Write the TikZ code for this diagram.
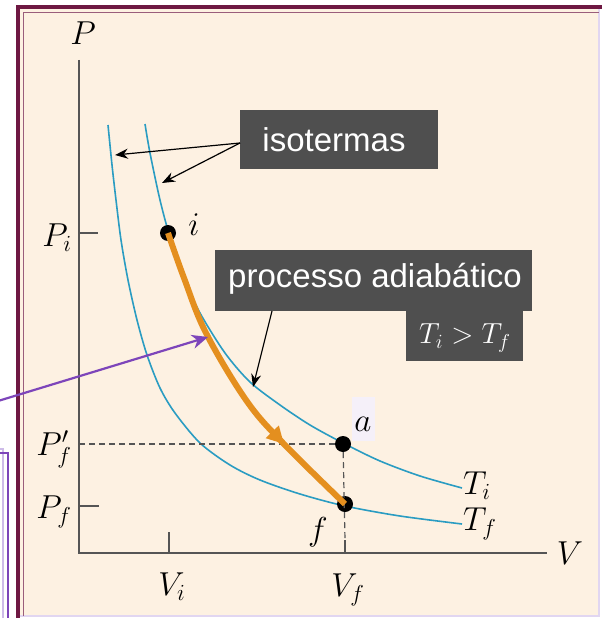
\documentclass[tikz,border=0pt]{standalone}
\usepackage{graphicx}
\usepackage{fontspec}
\newfontfamily\arialf{Liberation Sans}
\usetikzlibrary{arrows.meta,decorations.markings}
\definecolor{cream}{HTML}{FDF1E2}
\definecolor{maroon}{HTML}{6E1842}
\definecolor{boxgrey}{HTML}{4F4F4F}
\definecolor{isoblue}{HTML}{2A9CC2}
\definecolor{adiab}{HTML}{E48F1F}
\definecolor{purp}{HTML}{7D45BA}
\definecolor{lav}{HTML}{CDBBE8}
\definecolor{axgrey}{HTML}{555555}
\newcommand{\mylbl}[1]{\scalebox{1.6}{\huge #1}}
\begin{document}
\begin{tikzpicture}[x=1pt,y=-1pt,
  lbl/.style={inner sep=0pt},
  sans/.style={font=\arialf\fontsize{33}{38}\selectfont, text=white, inner sep=0pt},
  darkbox/.style={fill=boxgrey, draw=none},
  axis/.style={draw=axgrey, line width=2pt},
  guide/.style={draw=axgrey, line width=1.2pt, dash pattern=on 6pt off 4pt},
  iso/.style={draw=isoblue, line width=1.6pt},
  dot/.style={circle, fill=black, minimum size=16pt, inner sep=0pt},
  pointer/.style={draw=black, line width=1.2pt, -{Stealth[length=13pt,width=10pt]}},
]
\useasboundingbox (0,0) rectangle (604,618);
% frame
\fill[cream] (19,8) rectangle (599,616);
\draw[lav!60!white, line width=1.2pt] (599,9) -- (599,616) -- (19,616);
\draw[maroon, line width=4.5pt] (18,640) -- (18,7) -- (602,7);
\draw[maroon!70, line width=1pt] (23.5,616) -- (23.5,12.5) -- (599,12.5);
% purple box at left
\draw[lav, line width=2pt] (-10,449) -- (3,449) -- (3,640);
\draw[purp, line width=2.5pt] (-10,453) -- (8,453) -- (8,640);

% axes
\coordinate (Ptop) at (79,60);
\coordinate (O) at (79,553);
\coordinate (Vend) at (547,553);
\draw[axis] (Ptop) -- (O) -- (Vend);
\coordinate (tPi) at (79,233); \coordinate (tPi2) at (98,233);
\coordinate (tPf) at (79,506); \coordinate (tPf2) at (99,506);
\coordinate (tVi) at (169,553); \coordinate (tVi2) at (169,532);
\coordinate (tVf) at (345,553); \coordinate (tVf2) at (345,540);
\draw[axis] (tPi) -- (tPi2);
\draw[axis] (tPf) -- (tPf2);
\draw[axis] (tVi) -- (tVi2);
\draw[axis] (tVf) -- (tVf2);

% isotherms
\draw[iso] plot[smooth, tension=0.5] coordinates {(145,124) (150,153) (160,200) (170,237) (185,280) (200,313) (225,353) (250,382) (280,405) (310,425) (343,443) (380,461) (420,476) (462,488)};
\draw[iso] plot[smooth, tension=0.5] coordinates {(108,125) (112,165) (116,200) (121,240) (128,280) (137,320) (147,355) (160,388) (175,413) (200,443) (230,465) (260,480) (300,494) (345,506) (400,516) (462,524)};

% points
\node[dot] (i) at (168,233) {};
\node[dot] (a) at (343,444) {};
\node[dot] (f) at (345,504) {};
\coordinate (Pfp) at (79,444);
\draw[guide] (Pfp) -- (a);
\draw[guide] (a) -- (tVf2);

% adiabatic path
\draw[adiab, line width=6pt,
  postaction={decorate, decoration={markings, mark=at position 0.74 with {\arrow{Triangle[length=17pt,width=17pt]}}}}]
  plot[smooth, tension=0.6] coordinates {(168,233) (184,278) (206,333) (246,400) (283,443) (345,504)};

% labels
\node[lbl] (Plab) at (83,33) {\mylbl{$P$}};
\node[lbl, anchor=east] (Pilab) at (72,238) {\mylbl{$P_i$}};
\node[lbl, anchor=east] (Pfplab) at (72,449) {\mylbl{$P'_f$}};
\node[lbl, anchor=east] (Pflab) at (72,512) {\mylbl{$P_f$}};
\node[lbl] (Vilab) at (172,587) {\mylbl{$V_i$}};
\node[lbl] (Vflab) at (348,590) {\mylbl{$V_f$}};
\node[lbl] (Vlab) at (570,553) {\mylbl{$V$}};
\node[lbl, anchor=west] (Tilab) at (463,486) {\mylbl{$T_i$}};
\node[lbl, anchor=west] (Tflab) at (463,524) {\mylbl{$T_f$}};
\node[lbl] (ilab) at (194,225) {\mylbl{$i$}};
\node[fill=purp!8, minimum width=23pt, minimum height=44pt, inner sep=0pt] (abg) at (363,419) {};
\node[lbl] (alab) at (363,424) {\mylbl{$a$}};
\node[lbl] (flab) at (318,532) {\mylbl{$f$}};

% isotermas box
\fill[darkbox] (240,110) rectangle (438,169);
\node[sans] (iso) at (334,140) {isotermas};
\coordinate (isoA) at (240,143);
\coordinate (isoT1) at (115,155);
\coordinate (isoT2) at (162,183);
\draw[pointer] (isoA) -- (isoT1);
\draw[pointer] (isoA) -- (isoT2);

% processo box
\fill[darkbox] (215,250) rectangle (532,311);
\fill[darkbox] (406,310) rectangle (523,361);
\node[sans] (proc) at (375,279) {processo adiabático};
\node[text=white, inner sep=0pt] (Trel) at (465,338) {\scalebox{1.4}{\huge $T_i > T_f$}};
\coordinate (procA) at (272,311);
\coordinate (procT) at (253,387);
\draw[pointer] (procA) -- (procT);

% purple arrow
\coordinate (purA) at (-2,401);
\coordinate (purT) at (208,337);
\draw[purp, line width=2.2pt, -{Stealth[length=16pt,width=14pt,inset=5pt]}] (purA) -- (purT);
\end{tikzpicture}
\end{document}
